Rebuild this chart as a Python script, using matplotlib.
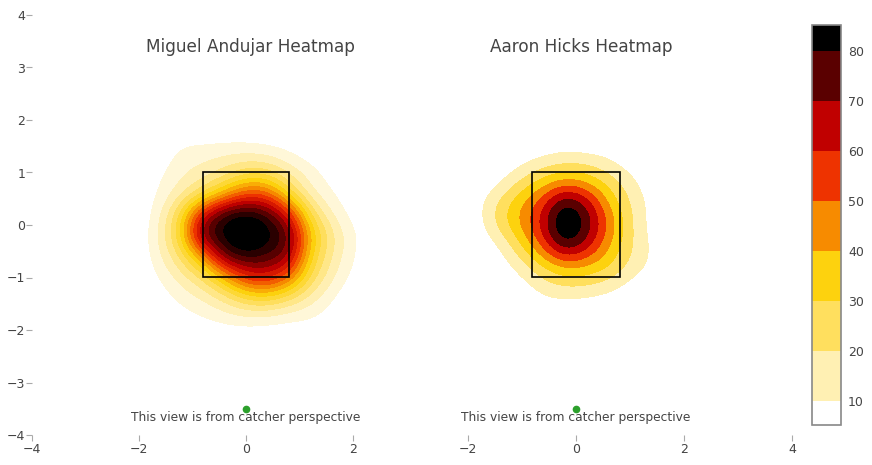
import numpy as np
import matplotlib
matplotlib.use("Agg")
import matplotlib.pyplot as plt
from matplotlib.colors import ListedColormap, Normalize, BoundaryNorm, LinearSegmentedColormap
from matplotlib.patches import Rectangle
import matplotlib.cm as cm

# ---------------- data ----------------
titles = ["Miguel Andujar Heatmap", "Aaron Hicks Heatmap"]
note_text = "This view is from catcher perspective"

# Andujar density grid (rows top->bottom)
andujar_x = [-2.0, -1.6, -1.2, -0.8, -0.4, 0.0, 0.4, 0.8, 1.2, 1.6, 2.0, 2.4]
andujar_y = [1.8, 1.4, 1.0, 0.6, 0.2, -0.2, -0.6, -1.0, -1.4, -1.8, -2.2]
andujar_z = [
    [0, 0, 0, 0, 0, 0, 0, 0, 0, 0, 0, 0],
    [0, 0, 14, 15, 17, 17, 14, 8, 3, 0, 0, 0],
    [0, 8, 18, 23, 32, 45, 45, 28, 14, 5, 0, 0],
    [0, 11, 26, 45, 72, 100, 98, 56, 22, 10, 2, 0],
    [0, 17, 55, 122, 160, 168, 155, 120, 50, 20, 5, 0],
    [0, 22, 60, 150, 166, 190, 168, 150, 72, 34, 12, 0],
    [0, 18, 42, 80, 145, 156, 150, 138, 62, 30, 10, 0],
    [0, 10, 25, 40, 72, 110, 118, 95, 48, 22, 6, 0],
    [0, 3, 13, 20, 32, 50, 55, 42, 25, 10, 0, 0],
    [0, 0, 4, 8, 12, 14, 12, 9, 9, 4, 0, 0],
    [0, 0, 0, 0, 0, 0, 0, 0, 0, 0, 0, 0],
]

# Hicks density grid (rows top->bottom)
hicks_x = [-2.2, -1.8, -1.4, -1.0, -0.6, -0.2, 0.2, 0.6, 1.0, 1.4, 1.8]
hicks_y = [1.6, 1.2, 0.8, 0.4, 0.0, -0.4, -0.8, -1.2, -1.6, -2.0]
hicks_z = [
    [0, 0, 0, 0, 0, 2, 0, 0, 0, 0, 0],
    [0, 0, 0, 6, 12, 16, 15, 11, 3, 0, 0],
    [0, 0, 8, 22, 35, 44, 40, 26, 14, 2, 0],
    [0, 6, 24, 40, 58, 86, 70, 40, 20, 6, 0],
    [0, 5, 26, 43, 66, 100, 80, 50, 22, 5, 0],
    [0, 0, 10, 30, 55, 84, 68, 42, 22, 8, 0],
    [0, 0, 3, 15, 30, 42, 40, 32, 18, 8, 0],
    [0, 0, 0, 4, 14, 19, 18, 14, 5, 0, 0],
    [0, 0, 0, 0, 4, 3, 2, 0, 0, 0, 0],
    [0, 0, 0, 0, 0, 0, 0, 0, 0, 0, 0],
]

colorbar_ticks = [10, 20, 30, 40, 50, 60, 70, 80]
colorbar_range = [5.2, 85.2]
band_colors = ["#ffffff", "#fff0b3", "#ffdf5e", "#fdd20e", "#f78b00",
               "#ee3300", "#c00000", "#5a0000", "#000000"]

strike_zone_x = [-0.81, 0.81]
strike_zone_y = [-0.99, 1.01]
marker_pos = [0.0, -3.5]
x_ticks = [[-4, -2, 0, 2], [-2, 0, 2, 4]]
y_ticks = [-4, -3, -2, -1, 0, 1, 2, 3, 4]

# ---------------- figure ----------------
plt.rcParams["font.family"] = ["DejaVu Sans"]
W, H = 872, 465
fig = plt.figure(figsize=(W / 100, H / 100), dpi=100)

def frac_rect(x0, x1, y0, y1):
    return [x0 / W, 1 - y1 / H, (x1 - x0) / W, (y1 - y0) / H]

ax1 = fig.add_axes(frac_rect(32, 417, 15, 435))
ax2 = fig.add_axes(frac_rect(424.8, 792, 15, 435))
ax1.set_xlim(-4, 3.2)
ax2.set_xlim(-2.8, 4)

# colormaps
right_cmap = ListedColormap(band_colors)
right_cmap.set_over("#000000")
right_cmap.set_under("#ffffff")
right_norm = Normalize(vmin=0, vmax=90)

smooth = LinearSegmentedColormap.from_list("hot_r", band_colors)
left_cmap = ListedColormap([smooth(k / 16) for k in range(17)])
left_cmap.set_over("#000000")
left_cmap.set_under("#ffffff")
left_norm = Normalize(vmin=0, vmax=170)

def extent_of(xs, ys):
    dx = abs(xs[1] - xs[0])
    dy = abs(ys[1] - ys[0])
    return [min(xs) - dx / 2, max(xs) + dx / 2, min(ys) - dy / 2, max(ys) + dy / 2]

ax1.imshow(np.array(andujar_z, float), extent=extent_of(andujar_x, andujar_y),
           origin="upper", cmap=left_cmap, norm=left_norm, interpolation="bicubic",
           interpolation_stage="data", aspect="auto", zorder=1)
ax2.imshow(np.array(hicks_z, float), extent=extent_of(hicks_x, hicks_y),
           origin="upper", cmap=right_cmap, norm=right_norm, interpolation="bicubic",
           interpolation_stage="data", aspect="auto", zorder=1)

for ax, title, xt in zip([ax1, ax2], titles, x_ticks):
    ax.set_ylim(-4, 4)
    ax.set_facecolor("none")
    for s in ax.spines.values():
        s.set_visible(False)
    ax.add_patch(Rectangle((strike_zone_x[0], strike_zone_y[0]),
                           strike_zone_x[1] - strike_zone_x[0],
                           strike_zone_y[1] - strike_zone_y[0],
                           fill=False, edgecolor="black", lw=1.2, zorder=3))
    ax.plot([marker_pos[0]], [marker_pos[1]], "o", color="#2ca02c", ms=4.5, zorder=4)
    ax.text(0, -3.66, note_text, ha="center", va="center", fontsize=8.8, color="#444444")
    ax.text(0.09, 3.39, title, ha="center", va="center", fontsize=12.2, color="#444444")
    ax.set_xticks(xt)
    ax.tick_params(axis="x", length=4, color="#aaaaaa", labelcolor="#444444",
                   labelsize=9, pad=2)
    ax.tick_params(axis="y", length=4, color="#aaaaaa", labelcolor="#444444",
                   labelsize=9, pad=1)

ax1.set_yticks(y_ticks)
ax2.set_yticks([])

# colorbar
cax = fig.add_axes(frac_rect(812, 841, 25, 425))
bounds = [colorbar_range[0]] + colorbar_ticks + [colorbar_range[1]]
cb_norm = BoundaryNorm(bounds, len(band_colors))
sm = cm.ScalarMappable(norm=cb_norm, cmap=ListedColormap(band_colors))
cb = fig.colorbar(sm, cax=cax, ticks=colorbar_ticks, spacing="proportional")
cb.outline.set_edgecolor("#888888")
cb.outline.set_linewidth(1.2)
cax.minorticks_off()
cax.tick_params(which="both", length=0, labelsize=9, labelcolor="#444444", pad=5)

fig.savefig("out.png", dpi=100)
